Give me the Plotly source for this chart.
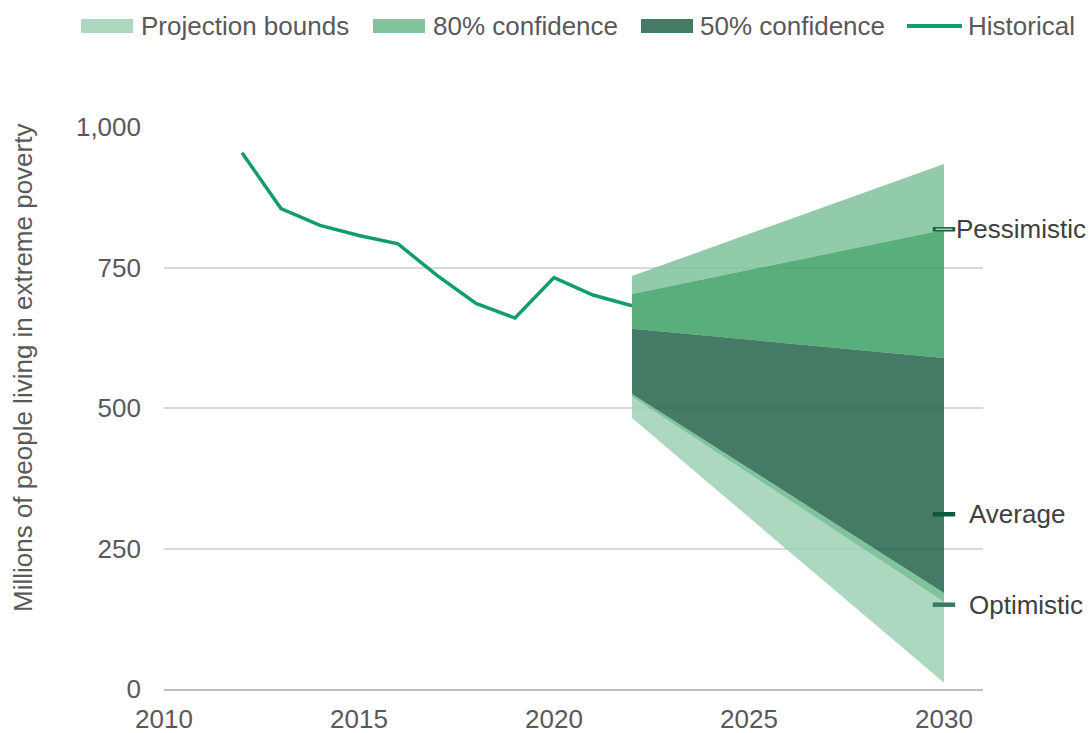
import plotly.graph_objects as go

# ---- data ----
hist_years = [2012, 2013, 2014, 2015, 2016, 2017, 2018, 2019, 2020, 2021, 2022]
hist_values = [954, 855, 825, 807, 792, 736, 686, 660, 732, 701, 682]

proj_years = [2022, 2030]
proj_upper = [735, 934]
proj_lower = [482, 11]
c80_upper = [703, 817]
c80_lower = [520, 155]
c50_upper = [641, 589]
c50_lower = [525, 171]

scenario_names = ["Pessimistic", "Average", "Optimistic"]
scenario_values = [818, 311, 150]
scenario_year = 2030

legend_labels = ["Projection bounds", "80% confidence", "50% confidence", "Historical"]

y_ticks = [0, 250, 500, 750, 1000]
y_tick_labels = ["0", "250", "500", "750", "1,000"]
x_ticks = [2010, 2015, 2020, 2025, 2030]

# ---- style ----
FONT = "Arial, Liberation Sans, sans-serif"
GREY = "#595959"
DARKTXT = "#404040"
FS = 26
W, H = 1091, 733
ML, MR, MT, MB = 164, 108, 127, 44
PW, PH = W - ML - MR, H - MT - MB

C_PROJ_LOW = (172, 216, 192)
C_PROJ_UP = (146, 203, 169)
C_80_LOW = (127, 196, 156)
C_80_UP = (87, 175, 123)
C_50 = (69, 122, 101)
C_HIST = "#139e68"

fig = go.Figure()

a = 0.86
def rgba(c):
    f = [max(0, min(255, round((v - (1 - a) * 255) / a))) for v in c]
    return f"rgba({f[0]},{f[1]},{f[2]},{a})"


def band(lower, upper, color):
    fig.add_trace(go.Scatter(
        x=proj_years, y=lower, mode="lines", line=dict(width=0),
        showlegend=False, hoverinfo="skip"))
    fig.add_trace(go.Scatter(
        x=proj_years, y=upper, mode="lines", line=dict(width=0),
        fill="tonexty", fillcolor=rgba(color), showlegend=False, hoverinfo="skip"))


band(proj_lower, c80_lower, C_PROJ_LOW)
band(c80_upper, proj_upper, C_PROJ_UP)
band(c80_lower, c50_lower, C_80_LOW)
band(c50_upper, c80_upper, C_80_UP)
band(c50_lower, c50_upper, C_50)

# historical
fig.add_trace(go.Scatter(
    x=hist_years, y=hist_values, mode="lines", name="Historical",
    line=dict(color=C_HIST, width=3.5), showlegend=False))

# scenario markers + labels
marker_colors = ["#1d5e44", "#0c5a3a", "#3a7d5e"]
label_shift = [10, 23, 23]
for nm, val, col, sh in zip(scenario_names, scenario_values, marker_colors, label_shift):
    fig.add_trace(go.Scatter(
        x=[scenario_year], y=[val], mode="markers", showlegend=False,
        marker=dict(symbol="line-ew", size=16, line=dict(color=col, width=4.5)),
        cliponaxis=False, hoverinfo="skip"))
    if nm == "Pessimistic":
        fig.add_trace(go.Scatter(
            x=[scenario_year], y=[val], mode="markers", showlegend=False,
            marker=dict(symbol="line-ew", size=12, line=dict(color="#9fd2b3", width=1.5)),
            cliponaxis=False, hoverinfo="skip"))
    fig.add_annotation(
        x=scenario_year, y=val, text=nm, showarrow=False, xanchor="left",
        xshift=sh, font=dict(family=FONT, size=FS, color=DARKTXT))

# ---- manual legend (swatch rectangles + text) ----
def px_x(px):
    return (px - ML) / PW

def px_y(py):
    return (MT + PH - py) / PH

sw_left = [81, 373, 641, 907]
sw_right = [133, 425, 693, 962]
txt_left = [139, 431, 698, 966]
sw_colors = [C_PROJ_LOW, C_80_LOW, C_50]
LEG_Y = 26
for i, lab in enumerate(legend_labels):
    if i < 3:
        c = sw_colors[i]
        fig.add_shape(type="rect", xref="paper", yref="paper",
                      x0=px_x(sw_left[i]), x1=px_x(sw_right[i]),
                      y0=px_y(LEG_Y + 7), y1=px_y(LEG_Y - 7),
                      fillcolor=f"rgb({c[0]},{c[1]},{c[2]})", line=dict(width=0))
    else:
        fig.add_shape(type="line", xref="paper", yref="paper",
                      x0=px_x(sw_left[i]), x1=px_x(sw_right[i]),
                      y0=px_y(LEG_Y), y1=px_y(LEG_Y),
                      line=dict(color=C_HIST, width=4))
    fig.add_annotation(xref="paper", yref="paper", x=px_x(txt_left[i]), y=px_y(LEG_Y),
                       text=lab, showarrow=False, xanchor="left", yanchor="middle",
                       font=dict(family=FONT, size=FS, color=GREY))

# y-axis title
fig.add_annotation(
    xref="paper", yref="paper", x=px_x(23), y=px_y(368),
    text="Millions of people living in extreme poverty",
    textangle=-90, showarrow=False, xanchor="center", yanchor="middle",
    font=dict(family=FONT, size=FS, color=GREY))

fig.update_layout(
    width=W, height=H,
    margin=dict(l=ML, r=MR, t=MT, b=MB, autoexpand=False),
    paper_bgcolor="white", plot_bgcolor="white",
    font=dict(family=FONT, size=FS, color=GREY),
    showlegend=False,
    xaxis=dict(range=[2010, 2031], tickvals=x_ticks, showgrid=False,
               showline=True, linecolor="#bfbfbf", linewidth=2,
               ticks="", zeroline=False, automargin=False, ticklabelstandoff=6,
               tickfont=dict(size=FS, color=GREY)),
    yaxis=dict(range=[0, 1000], tickvals=y_ticks, ticktext=y_tick_labels,
               showgrid=True, gridcolor="#d9d9d9", gridwidth=1.5,
               zeroline=False, ticks="", ticklabelstandoff=22, automargin=False,
               tickfont=dict(size=FS, color=GREY)),
)

fig.write_html(
    "out.html",
    config={"displayModeBar": False},
    post_script="document.body.style.margin='0px';document.body.style.overflow='hidden';",
)
